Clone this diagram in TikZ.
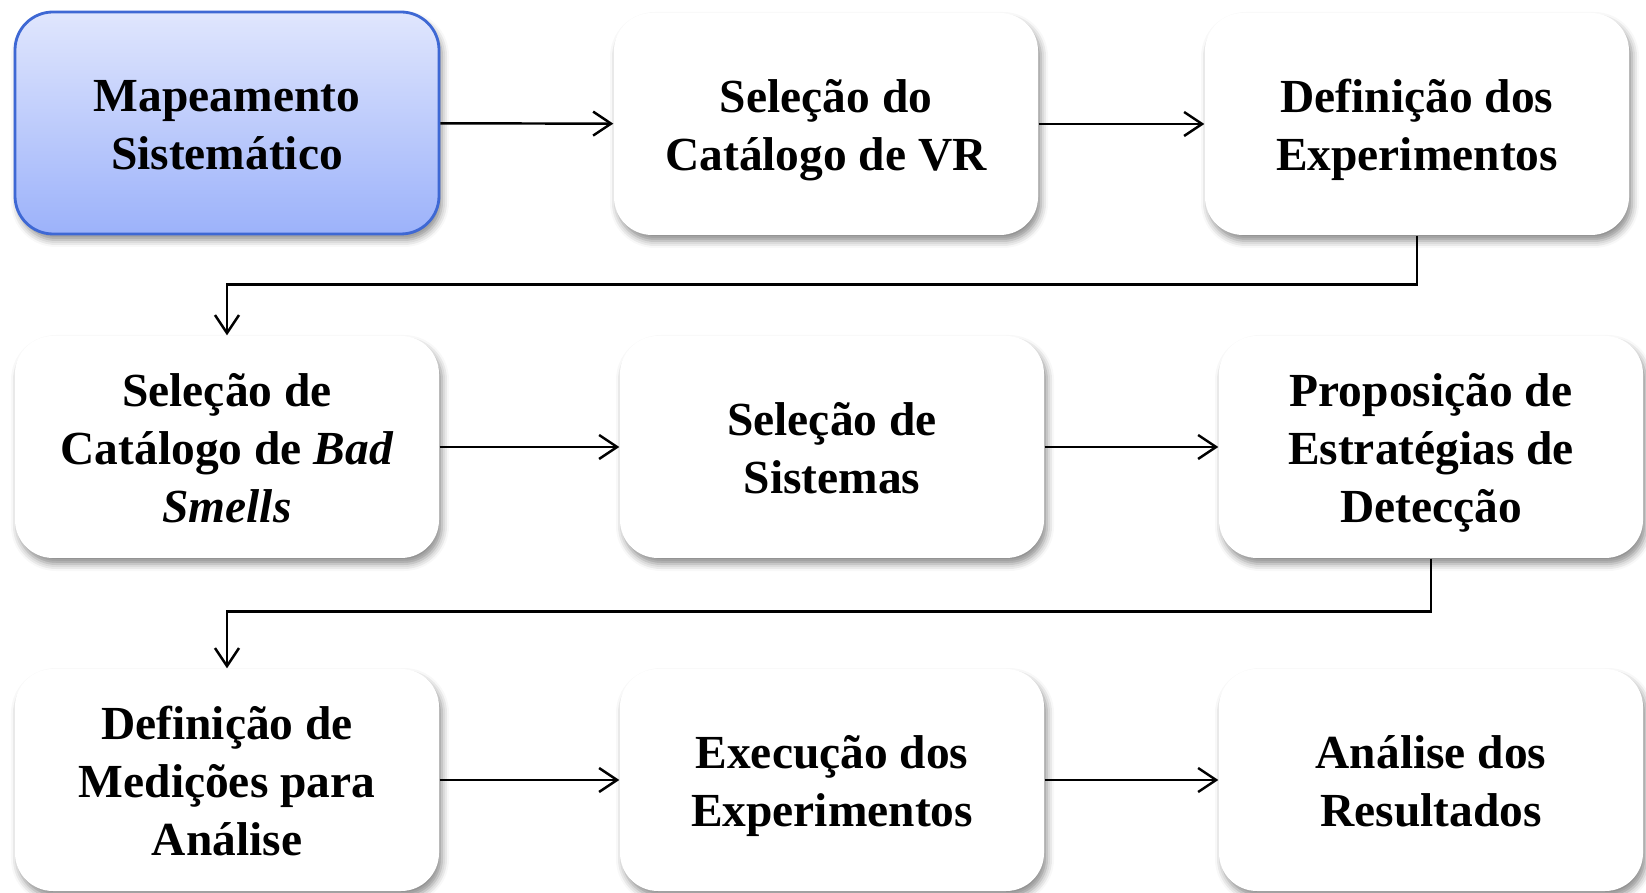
\documentclass[tikz,border=0pt]{standalone}
\usepackage{fontspec}
\setmainfont{Liberation Serif}
\usetikzlibrary{arrows.meta, shapes, positioning, shadows.blur, calc}

\definecolor{mapTop}{RGB}{224,230,253}
\definecolor{mapBottom}{RGB}{156,178,250}
\definecolor{mapBorder}{RGB}{62,104,212}

% primeira linha de cada caixa com altura fixa
\newcommand{\alto}{\rule{0pt}{14.5pt}}

\begin{document}
\begin{tikzpicture}[font=\bfseries\fontsize{13.5}{16.4}\selectfont]
	\def\boxw{4.24}
	\def\boxh{2.22}
		\tikzset	{
		etapa/.style={
			rectangle, rounded corners=0.38cm, fill=white, inner sep=0pt,
			minimum width=\boxw cm, minimum height=\boxh cm, align=center,
			execute at end node={\rule[-4.5pt]{0pt}{4.5pt}},
			blur shadow={shadow xshift=0.03cm, shadow yshift=-0.06cm, shadow blur radius=0.07cm, shadow opacity=45}
		},
		inicio/.style={
			etapa, draw=mapBorder, line width=0.8pt, top color=mapTop, bottom color=mapBottom
		},
		fluxo/.style={
			line width=0.7pt, -{Straight Barb[length=1.8mm, width=2.4mm]}
		},
	}

	\useasboundingbox (0,0) rectangle (16.46,-8.93);

	\coordinate (A) at (2.27,-1.23);
	\coordinate (B) at (8.26,-1.24);
	\coordinate (C) at (14.17,-1.24);
	\coordinate (D) at (2.27,-4.47);
	\coordinate (E) at (8.32,-4.47);
	\coordinate (F) at (14.31,-4.47);
	\coordinate (G) at (2.27,-7.80);
	\coordinate (H) at (8.32,-7.80);
	\coordinate (I) at (14.31,-7.80);

	% primeira linha
	\node[inicio] (mapeamento) at (A) {\alto Mapeamento\\Sistemático};
	\node[etapa] (catalogoVR) at (B) {\alto Seleção do\\Catálogo de VR};
	\node[etapa] (defExp) at (C) {\alto Definição dos\\Experimentos};

	% segunda linha
	\node[etapa] (catalogoBS) at (D) {\alto Seleção de\\Catálogo de \textit{Bad}\\\textit{Smells}};
	\node[etapa] (sistemas) at (E) {\alto Seleção de\\Sistemas};
	\node[etapa] (estrategias) at (F) {\alto Proposição de\\Estratégias de\\Detecção};

	% terceira linha
	\node[etapa] (medicoes) at (G) {\alto Definição de\\Medições para\\Análise};
	\node[etapa] (execucao) at (H) {\alto Execução dos\\Experimentos};
	\node[etapa] (analise) at (I) {\alto Análise dos\\Resultados};

	\draw[fluxo]	(mapeamento) -- (catalogoVR);
	\draw[fluxo]	(catalogoVR) -- (defExp);
	\draw[fluxo]	(defExp.south) -- ++(0,-0.49) -| (catalogoBS.north);

	\draw[fluxo]	(catalogoBS) -- (sistemas);
	\draw[fluxo]	(sistemas) -- (estrategias);
	\draw[fluxo]	(estrategias.south) -- ++(0,-0.53) -| (medicoes.north);

	\draw[fluxo]	(medicoes) -- (execucao);
	\draw[fluxo]	(execucao) -- (analise);
\end{tikzpicture}
\end{document}
